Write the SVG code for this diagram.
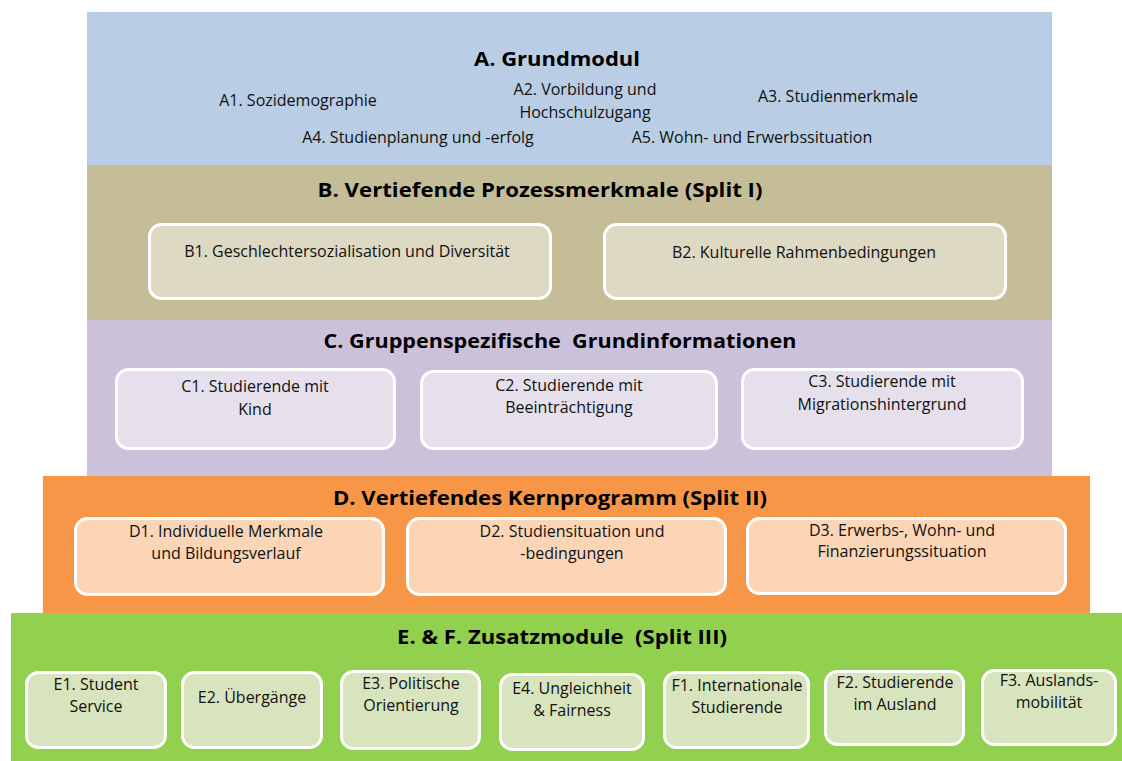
<svg xmlns="http://www.w3.org/2000/svg" width="1122" height="761" viewBox="0 0 1122 761">
<style>
.t{font-family:"Open Sans","Liberation Sans",Arial,sans-serif;font-size:20px;font-weight:bold;fill:#000;text-anchor:middle}
.s{font-family:"Open Sans","Liberation Sans",Arial,sans-serif;font-size:16px;fill:#111;text-anchor:middle}
.bx{stroke:#fff;stroke-width:3}
.b{fill:#DDD9C3}.c{fill:#E5E0EC}.d{fill:#FBD5B5}.e{fill:#D7E4BD}
</style>
<rect width="1122" height="761" fill="#fff"/>
<g id="A">
<rect x="87" y="12" width="965" height="154" fill="#B9CDE5"/>
<text class="t" x="557" y="66" textLength="166" lengthAdjust="spacingAndGlyphs">A. Grundmodul</text>
<text class="s" x="298" y="106">A1. Sozidemographie</text>
<text class="s" x="585" y="95">A2. Vorbildung und</text>
<text class="s" x="585" y="118">Hochschulzugang</text>
<text class="s" x="838" y="102">A3. Studienmerkmale</text>
<text class="s" x="418" y="143">A4. Studienplanung und -erfolg</text>
<text class="s" x="752" y="143">A5. Wohn- und Erwerbssituation</text>
</g>
<g id="B">
<rect x="87" y="165" width="965" height="156" fill="#C4BD97"/>
<text class="t" x="540" y="197" textLength="445" lengthAdjust="spacingAndGlyphs">B. Vertiefende Prozessmerkmale (Split I)</text>
<g id="B1"><rect class="bx b" x="149.5" y="224.5" width="401" height="74" rx="12"/><text class="s" x="347" y="257">B1. Geschlechtersozialisation und Diversität</text></g>
<g id="B2"><rect class="bx b" x="604.5" y="224.5" width="401" height="74" rx="12"/><text class="s" x="804" y="258">B2. Kulturelle Rahmenbedingungen</text></g>
</g>
<g id="C">
<rect x="87" y="320" width="965" height="156" fill="#CCC1DA"/>
<text class="t" x="560" y="348" xml:space="preserve" textLength="473" lengthAdjust="spacingAndGlyphs">C. Gruppenspezifische  Grundinformationen</text>
<g id="C1"><rect class="bx c" x="116.5" y="369.5" width="278" height="79" rx="12"/><text class="s" x="255" y="392">C1. Studierende mit</text><text class="s" x="255" y="415">Kind</text></g>
<g id="C2"><rect class="bx c" x="421.5" y="371.5" width="295" height="77" rx="12"/><text class="s" x="569" y="391">C2. Studierende mit</text><text class="s" x="569" y="413">Beeinträchtigung</text></g>
<g id="C3"><rect class="bx c" x="742.5" y="369.5" width="280" height="79" rx="12"/><text class="s" x="882" y="387">C3. Studierende mit</text><text class="s" x="882" y="410">Migrationshintergrund</text></g>
</g>
<g id="D">
<rect x="43" y="476" width="1047" height="138" fill="#F79646"/>
<text class="t" x="550" y="505" textLength="434" lengthAdjust="spacingAndGlyphs">D. Vertiefendes Kernprogramm (Split II)</text>
<g id="D1"><rect class="bx d" x="75.5" y="518.5" width="308" height="76" rx="12"/><text class="s" x="226" y="537">D1. Individuelle Merkmale</text><text class="s" x="226" y="559">und Bildungsverlauf</text></g>
<g id="D2"><rect class="bx d" x="407.5" y="518.5" width="318" height="76" rx="12"/><text class="s" x="572" y="537">D2. Studiensituation und</text><text class="s" x="572" y="559">-bedingungen</text></g>
<g id="D3"><rect class="bx d" x="747.5" y="518.5" width="318" height="75" rx="12"/><text class="s" x="902" y="536">D3. Erwerbs-, Wohn- und</text><text class="s" x="902" y="557">Finanzierungssituation</text></g>
</g>
<g id="E">
<rect x="11" y="613" width="1111" height="148" fill="#92D050"/>
<text class="t" x="562" y="644" xml:space="preserve" textLength="330" lengthAdjust="spacingAndGlyphs">E. &amp; F. Zusatzmodule  (Split III)</text>
<g id="E1"><rect class="bx e" x="26.5" y="672.5" width="139" height="75" rx="12"/><text class="s" x="96" y="690">E1. Student</text><text class="s" x="96" y="712">Service</text></g>
<g id="E2"><rect class="bx e" x="182.5" y="672.5" width="139" height="75" rx="12"/><text class="s" x="252" y="703">E2. Übergänge</text></g>
<g id="E3"><rect class="bx e" x="341.5" y="671.5" width="138" height="77" rx="12"/><text class="s" x="411" y="689">E3. Politische</text><text class="s" x="411" y="711">Orientierung</text></g>
<g id="E4"><rect class="bx e" x="500.5" y="674.5" width="143" height="75" rx="12"/><text class="s" x="572" y="694">E4. Ungleichheit</text><text class="s" x="572" y="716">&amp; Fairness</text></g>
<g id="F1"><rect class="bx e" x="664.5" y="672.5" width="144" height="75" rx="12"/><text class="s" x="737" y="691">F1. Internationale</text><text class="s" x="737" y="713">Studierende</text></g>
<g id="F2"><rect class="bx e" x="825.5" y="671.5" width="138" height="73" rx="12"/><text class="s" x="895" y="688">F2. Studierende</text><text class="s" x="895" y="710">im Ausland</text></g>
<g id="F3"><rect class="bx e" x="982.5" y="670.5" width="133" height="74" rx="12"/><text class="s" x="1049" y="686">F3. Auslands-</text><text class="s" x="1049" y="708">mobilität</text></g>
</g>
<g id="connectors"></g>
</svg>
